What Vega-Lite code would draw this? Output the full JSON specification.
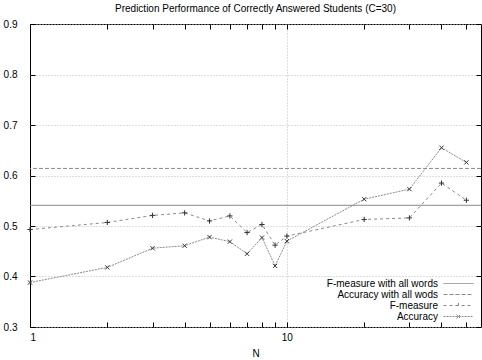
{
  "$schema": "https://vega.github.io/schema/vega-lite/v6.json",
  "width": 451,
  "height": 303,
  "autosize": {"type": "none"},
  "padding": {"left": 30, "top": 24, "right": 1, "bottom": 33},
  "background": "white",
  "title": {"text": "Prediction Performance of Correctly Answered Students (C=30)", "fontSize": 10, "fontWeight": "normal", "font": "Liberation Sans", "offset": 5, "color": "#000"},
  "config": {
    "view": {"stroke": "#000", "strokeWidth": 1},
    "axis": {"labelFont": "Liberation Sans", "titleFont": "Liberation Sans", "labelFontSize": 10, "titleFontSize": 10, "titleFontWeight": "normal", "labelColor": "#000", "titleColor": "#000", "domain": false, "tickColor": "#000"},
    "legend": {"labelFont": "Liberation Sans", "labelFontSize": 10, "labelColor": "#000"}
  },
  "datasets": {
    "series": [
      {"N": 1, "value": 0.493, "series": "F-measure"},
      {"N": 2, "value": 0.507, "series": "F-measure"},
      {"N": 3, "value": 0.521, "series": "F-measure"},
      {"N": 4, "value": 0.526, "series": "F-measure"},
      {"N": 5, "value": 0.510, "series": "F-measure"},
      {"N": 6, "value": 0.520, "series": "F-measure"},
      {"N": 7, "value": 0.487, "series": "F-measure"},
      {"N": 8, "value": 0.503, "series": "F-measure"},
      {"N": 9, "value": 0.462, "series": "F-measure"},
      {"N": 10, "value": 0.480, "series": "F-measure"},
      {"N": 20, "value": 0.513, "series": "F-measure"},
      {"N": 30, "value": 0.516, "series": "F-measure"},
      {"N": 40, "value": 0.585, "series": "F-measure"},
      {"N": 50, "value": 0.551, "series": "F-measure"},
      {"N": 1, "value": 0.388, "series": "Accuracy"},
      {"N": 2, "value": 0.418, "series": "Accuracy"},
      {"N": 3, "value": 0.456, "series": "Accuracy"},
      {"N": 4, "value": 0.461, "series": "Accuracy"},
      {"N": 5, "value": 0.478, "series": "Accuracy"},
      {"N": 6, "value": 0.469, "series": "Accuracy"},
      {"N": 7, "value": 0.445, "series": "Accuracy"},
      {"N": 8, "value": 0.477, "series": "Accuracy"},
      {"N": 9, "value": 0.421, "series": "Accuracy"},
      {"N": 10, "value": 0.470, "series": "Accuracy"},
      {"N": 20, "value": 0.553, "series": "Accuracy"},
      {"N": 30, "value": 0.573, "series": "Accuracy"},
      {"N": 40, "value": 0.655, "series": "Accuracy"},
      {"N": 50, "value": 0.626, "series": "Accuracy"}
    ],
    "refs": [
      {"value": 0.541, "series": "F-measure with all words"},
      {"value": 0.614, "series": "Accuracy with all wods"}
    ]
  },
  "layer": [
    {
      "data": {"name": "refs"},
      "mark": {"type": "rule", "color": "#8a8a8a", "strokeWidth": 1},
      "encoding": {
        "y": {"field": "value", "type": "quantitative", "scale": {"domain": [0.3, 0.9], "nice": false, "zero": false}, "axis": null},
        "strokeDash": {
          "field": "series", "type": "nominal",
          "scale": {"domain": ["F-measure with all words", "Accuracy with all wods", "F-measure", "Accuracy"], "range": [[1, 0], [4, 2], [3, 3], [2, 1]]},
          "legend": {"title": null, "orient": "bottom-right", "offset": 5, "symbolType": "M-3,0L3,0", "symbolSize": 100, "symbolOffset": 0, "symbolStrokeWidth": 1, "symbolStrokeColor": "#8a8a8a", "symbolOpacity": 1, "labelAlign": "right", "labelOffset": -26, "rowPadding": -2,
            "encode": {"symbols": {"update": {"shape": {"signal": "datum.value === 'F-measure' ? 'M-3,0L3,0M0,-0.5L0,0.5M-0.5,0L0.5,0' : datum.value === 'Accuracy' ? 'M-3,0L3,0M-0.4,-0.4L0.4,0.4M-0.4,0.4L0.4,-0.4' : 'M-3,0L3,0'"}}}}}
        }
      }
    },
    {
      "data": {"name": "series"},
      "mark": {"type": "line", "color": "#8a8a8a", "strokeWidth": 1},
      "encoding": {
        "x": {"field": "N", "type": "quantitative", "scale": {"type": "log", "domain": [1, 57], "nice": false},
          "axis": {"title": "N", "values": [1, 2, 3, 4, 5, 6, 7, 8, 9, 10, 20, 30, 40, 50], "labelExpr": "datum.value == 1 || datum.value == 10 ? datum.label : ''", "tickSize": -5, "labelPadding": 10, "titlePadding": 6,
            "grid": true, "gridColor": "#bbbbbb", "gridDash": [1, 2], "gridOpacity": {"condition": {"test": "datum.value == 10", "value": 1}, "value": 0}}},
        "y": {"field": "value", "type": "quantitative", "scale": {"domain": [0.3, 0.9], "nice": false, "zero": false},
          "axis": {"title": null, "values": [0.3, 0.4, 0.5, 0.6, 0.7, 0.8, 0.9], "format": ".1f", "tickSize": -5, "labelPadding": 18,
            "grid": true, "gridColor": "#bbbbbb", "gridDash": [1, 2]}},
        "strokeDash": {"field": "series", "type": "nominal", "legend": null},
        "detail": {"field": "series"}
      }
    },
    {
      "data": {"name": "series"},
      "mark": {"type": "point", "filled": false, "color": "#333333", "strokeWidth": 1, "size": 28, "opacity": 1},
      "encoding": {
        "x": {"field": "N", "type": "quantitative", "axis": {"orient": "top", "title": null, "labels": false, "values": [1, 2, 3, 4, 5, 6, 7, 8, 9, 10, 20, 30, 40, 50], "tickSize": -5, "grid": false}},
        "y": {"field": "value", "type": "quantitative", "axis": {"orient": "right", "title": null, "labels": false, "values": [0.3, 0.4, 0.5, 0.6, 0.7, 0.8, 0.9], "tickSize": -5, "grid": false}},
        "shape": {"field": "series", "type": "nominal", "scale": {"domain": ["F-measure", "Accuracy"], "range": ["M-1,0L1,0M0,-1L0,1", "M-0.8,-0.8L0.8,0.8M-0.8,0.8L0.8,-0.8"]}, "legend": null}
      }
    }
  ],
  "resolve": {"axis": {"x": "independent", "y": "independent"}}
}
